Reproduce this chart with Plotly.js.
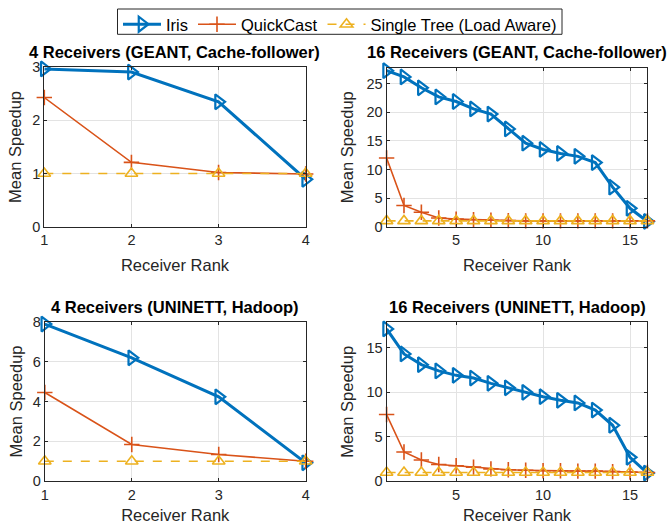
<!DOCTYPE html>
<html>
<head>
<meta charset="utf-8">
<script src="https://cdn.plot.ly/plotly-3.0.1.min.js"></script>
<style>html,body{margin:0;padding:0;background:#fff;}#chart{width:670px;height:524px;}</style>
</head>
<body>
<div id="chart"></div>
<script>
// ---- data ----
const seriesNames = ["Iris", "QuickCast", "Single Tree (Load Aware)"];
const ranks4 = [1, 2, 3, 4];
const ranks16 = [1, 2, 3, 4, 5, 6, 7, 8, 9, 10, 11, 12, 13, 14, 15, 16];

const geant4Iris = [2.97, 2.91, 2.35, 0.89];
const geant4Quick = [2.43, 1.21, 1.02, 0.99];
const geant4Single = [1, 1, 1, 1];

const geant16Iris = [27.3, 26.2, 24.3, 22.7, 21.9, 20.6, 19.7, 17.1, 14.6, 13.5, 12.8, 12.3, 11.2, 6.9, 3.2, 0.9];
const geant16Quick = [12.0, 3.7, 2.5, 1.5, 1.3, 1.2, 1.1, 1.05, 1.0, 1.0, 1.0, 1.0, 1.0, 1.0, 1.0, 1.0];
const geant16Single = [1, 1, 1, 1, 1, 1, 1, 1, 1, 1, 1, 1, 1, 1, 1, 1];

const uninett4Iris = [7.88, 6.19, 4.23, 0.92];
const uninett4Quick = [4.45, 1.84, 1.34, 1.0];
const uninett4Single = [1, 1, 1, 1];

const uninett16Iris = [17.1, 14.3, 13.1, 12.4, 11.9, 11.6, 11.0, 10.5, 10.0, 9.5, 9.1, 8.8, 8.0, 6.3, 2.7, 0.93];
const uninett16Quick = [7.5, 3.3, 2.4, 1.9, 1.75, 1.6, 1.4, 1.3, 1.25, 1.2, 1.2, 1.15, 1.15, 1.1, 1.05, 1.0];
const uninett16Single = [1, 1, 1, 1, 1, 1, 1, 1, 1, 1, 1, 1, 1, 1, 1, 1];

const panelTitles = [
  "4 Receivers (GEANT, Cache-follower)",
  "16 Receivers (GEANT, Cache-follower)",
  "4 Receivers (UNINETT, Hadoop)",
  "16 Receivers (UNINETT, Hadoop)"
];

// ---- styling ----
const C_IRIS = "#0072BD", C_QC = "#D95319", C_ST = "#EDB120";
const FONT = "Liberation Sans, Arial, Helvetica, sans-serif";
const AXC = "#262626";

const panels = [
  {x: ranks4, d: [geant4Iris, geant4Quick, geant4Single], xa: "x", ya: "y"},
  {x: ranks16, d: [geant16Iris, geant16Quick, geant16Single], xa: "x2", ya: "y2"},
  {x: ranks4, d: [uninett4Iris, uninett4Quick, uninett4Single], xa: "x3", ya: "y3"},
  {x: ranks16, d: [uninett16Iris, uninett16Quick, uninett16Single], xa: "x4", ya: "y4"}
];

const traces = [];
panels.forEach((p, i) => {
  traces.push({
    x: p.x, y: p.d[0], xaxis: p.xa, yaxis: p.ya, name: seriesNames[0],
    type: "scatter", mode: "lines+markers", cliponaxis: false,
    line: {color: C_IRIS, width: 3},
    marker: {symbol: "triangle-right-open", size: 13, color: C_IRIS, line: {color: C_IRIS, width: 2.2}},
    showlegend: i === 0, legendgroup: "iris"
  });
  traces.push({
    x: p.x, y: p.d[1], xaxis: p.xa, yaxis: p.ya, name: seriesNames[1],
    type: "scatter", mode: "lines+markers", cliponaxis: false,
    line: {color: C_QC, width: 1.6},
    marker: {symbol: "cross-thin-open", size: 11, color: C_QC, line: {color: C_QC, width: 1.6}},
    showlegend: i === 0, legendgroup: "qc"
  });
  traces.push({
    x: p.x, y: p.d[2], xaxis: p.xa, yaxis: p.ya, name: seriesNames[2],
    type: "scatter", mode: "lines+markers", cliponaxis: false,
    line: {color: C_ST, width: 1.6, dash: "dash"},
    marker: {symbol: "triangle-up-open", size: 11, color: C_ST, line: {color: C_ST, width: 1.6}},
    showlegend: i === 0, legendgroup: "st"
  });
});

function xax(domain, range, tickvals, anchor) {
  return {
    domain: domain, range: range, anchor: anchor, tickvals: tickvals,
    ticks: "inside", ticklen: 3, tickcolor: AXC, mirror: "ticks",
    showline: true, linecolor: AXC, linewidth: 1,
    showgrid: true, gridcolor: "#e3e3e3", zeroline: false,
    tickfont: {family: FONT, size: 14.5, color: AXC},
    title: {text: "Receiver Rank", font: {family: FONT, size: 16.5, color: AXC}, standoff: 12}
  };
}
function yax(domain, range, tickvals, anchor, standoff) {
  return {
    domain: domain, range: range, anchor: anchor, tickvals: tickvals,
    ticks: "inside", ticklen: 3, tickcolor: AXC, mirror: "ticks",
    showline: true, linecolor: AXC, linewidth: 1,
    showgrid: true, gridcolor: "#e3e3e3", zeroline: false,
    tickfont: {family: FONT, size: 14.5, color: AXC},
    title: {text: "Mean Speedup", font: {family: FONT, size: 16.5, color: AXC}, standoff: standoff}
  };
}

const W = 670, H = 524;
const px = v => v / W, py = v => 1 - v / H;

const layout = {
  width: W, height: H,
  margin: {l: 0, r: 0, t: 0, b: 0},
  paper_bgcolor: "#fff", plot_bgcolor: "#fff",
  font: {family: FONT, color: AXC},
  xaxis: xax([px(44.3), px(305.7)], [1, 4], [1, 2, 3, 4], "y"),
  yaxis: yax([py(226.6), py(67.3)], [0, 3], [0, 1, 2, 3], "x", 6),
  xaxis2: xax([px(386.6), px(647.4)], [1, 16], [5, 10, 15], "y2"),
  yaxis2: yax([py(226.6), py(67.8)], [0, 27.8], [0, 5, 10, 15, 20, 25], "x2", 8),
  xaxis3: xax([px(44.8), px(305.7)], [1, 4], [1, 2, 3, 4], "y3"),
  yaxis3: yax([py(481.2), py(321.7)], [0, 8], [0, 2, 4, 6, 8], "x3", 6),
  xaxis4: xax([px(386.6), px(647.4)], [1, 16], [5, 10, 15], "y4"),
  yaxis4: yax([py(481.4), py(322.3)], [0, 17.85], [0, 5, 10, 15], "x4", 8),
  showlegend: true,
  legend: {
    orientation: "h", x: px(340), xanchor: "center", y: py(7), yanchor: "top",
    borderwidth: 0, bgcolor: "rgba(0,0,0,0)",
    font: {family: FONT, size: 16.5, color: "#000"},
    itemwidth: 38, tracegroupgap: 0
  },
  shapes: [
    {type: "rect", xref: "paper", yref: "paper", x0: px(117.5), x1: px(562), y0: py(34.3), y1: py(9),
     line: {color: AXC, width: 1}, fillcolor: "rgba(0,0,0,0)", layer: "below"}
  ],
  annotations: [
    {text: "<b>" + panelTitles[0] + "</b>", x: px(175), y: py(52), xref: "paper", yref: "paper", showarrow: false, xanchor: "center", yanchor: "middle", font: {family: FONT, size: 16.5, color: "#000"}},
    {text: "<b>" + panelTitles[1] + "</b>", x: px(517), y: py(52), xref: "paper", yref: "paper", showarrow: false, xanchor: "center", yanchor: "middle", font: {family: FONT, size: 16.5, color: "#000"}},
    {text: "<b>" + panelTitles[2] + "</b>", x: px(175), y: py(307), xref: "paper", yref: "paper", showarrow: false, xanchor: "center", yanchor: "middle", font: {family: FONT, size: 16.5, color: "#000"}},
    {text: "<b>" + panelTitles[3] + "</b>", x: px(517), y: py(307), xref: "paper", yref: "paper", showarrow: false, xanchor: "center", yanchor: "middle", font: {family: FONT, size: 16.5, color: "#000"}}
  ]
};

Plotly.newPlot("chart", traces, layout, {displayModeBar: false, staticPlot: true});
</script>
</body>
</html>
